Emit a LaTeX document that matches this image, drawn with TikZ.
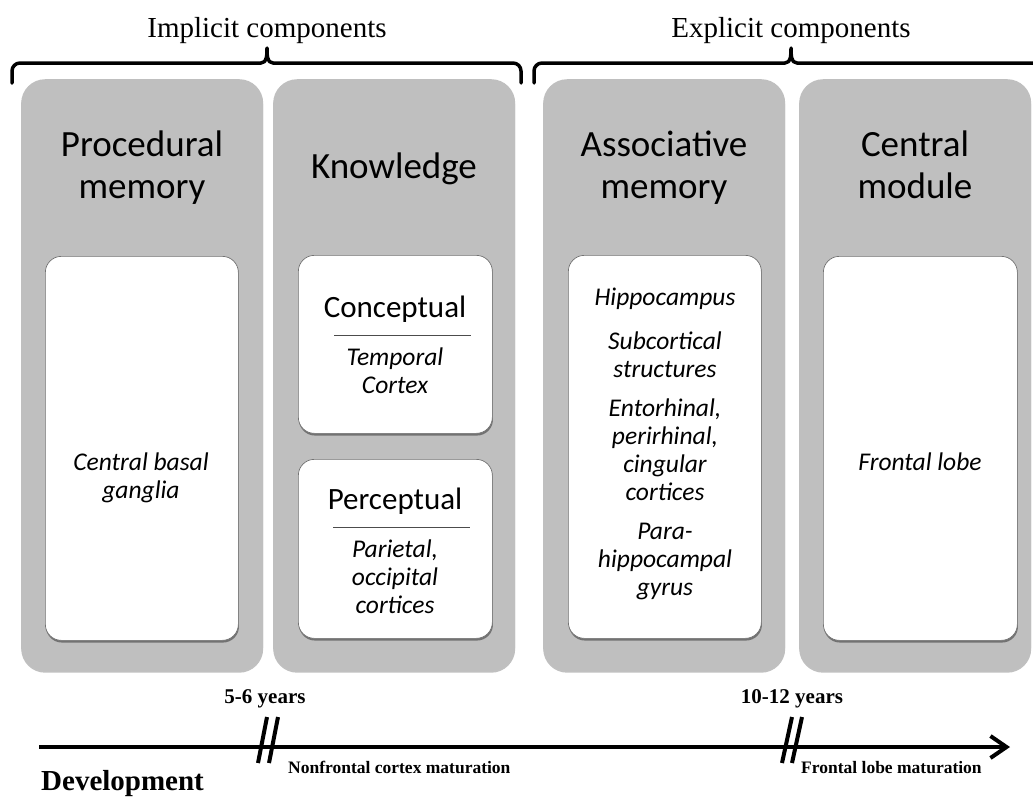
\documentclass[tikz,border=0pt]{standalone}
\usepackage{fontspec}
\setmainfont{Carlito}
\newfontfamily\timesf{Liberation Serif}
\usetikzlibrary{shadows,arrows.meta}
\definecolor{panelgray}{RGB}{191,191,191}
\begin{document}
\begin{tikzpicture}[x=1pt,y=-1pt,
  panel/.style={fill=panelgray, rounded corners=24pt, anchor=north west, inner sep=0pt,
    drop shadow={shadow xshift=0pt,shadow yshift=-2.5pt,opacity=0.35,fill=black!70}},
  innerbox/.style={fill=white, draw=black!55, line width=0.7pt, rounded corners=16pt, anchor=north west, inner sep=0pt,
    drop shadow={shadow xshift=0.6pt,shadow yshift=-2.2pt,opacity=0.55,fill=black!80}},
  hdr/.style={font=\fontsize{37}{42}\selectfont, align=center, inner sep=0pt, anchor=base},
  sub/.style={font=\fontsize{31}{36}\selectfont, inner sep=0pt, anchor=base},
  itx/.style={font=\fontsize{25.5}{28}\selectfont\itshape, align=center, inner sep=0pt, anchor=base},
  toplabel/.style={font=\timesf\fontsize{29}{32}\selectfont, inner sep=0pt, anchor=base},
  agelabel/.style={font=\timesf\bfseries\fontsize{21}{24}\selectfont, inner sep=0pt, anchor=base},
  matlabel/.style={font=\timesf\bfseries\fontsize{17.5}{20}\selectfont, inner sep=0pt, anchor=base west},
  brace/.style={line width=3.5pt, line cap=round, line join=round},
  breakmark/.style={line width=4pt},
  sepline/.style={draw=black!70, line width=1pt}
]
\useasboundingbox[fill=white] (0,0) rectangle (1033,796);

% panels
\node[panel, minimum width=242pt, minimum height=591pt] (p1) at (21,79) {};
\node[panel, minimum width=242pt, minimum height=591pt] (p2) at (273,79) {};
\node[panel, minimum width=242pt, minimum height=591pt] (p3) at (543,79) {};
\node[panel, minimum width=232pt, minimum height=591pt] (p4) at (799,79) {};

% headers (anchor base = baseline of last line)
\node[hdr] (h1) at (142,198) {Procedural\\memory};
\node[hdr] (h2) at (394,178) {Knowledge};
\node[hdr] (h3) at (664,198) {Associative\\memory};
\node[hdr] (h4) at (915,198) {Central\\module};

% inner boxes
\node[innerbox, minimum width=193pt, minimum height=384pt] (b1) at (45,256) {};
\node[innerbox, minimum width=194pt, minimum height=178pt] (b2a) at (298,255) {};
\node[innerbox, minimum width=194pt, minimum height=179pt] (b2b) at (298,459) {};
\node[innerbox, minimum width=193pt, minimum height=383pt] (b3) at (568,255) {};
\node[innerbox, minimum width=194pt, minimum height=384pt] (b4) at (823,256) {};

% procedural
\node[itx] (t1) at (141,498) {Central basal\\ganglia};

% knowledge
\node[sub] (c1) at (395,317) {Conceptual};
\coordinate (c1l) at (334,335);
\coordinate (c1r) at (471,335);
\draw[sepline] (c1l) -- (c1r);
\node[itx] (c2) at (395,393) {Temporal\\Cortex};

\node[sub] (d1) at (395,509) {Perceptual};
\coordinate (d1l) at (333,527);
\coordinate (d1r) at (470,527);
\draw[sepline] (d1l) -- (d1r);
\node[itx] (d2) at (395,613) {Parietal,\\occipital\\cortices};

% associative
\node[itx] (a1) at (665,305) {Hippocampus};
\node[itx] (a2) at (665,377) {Subcortical\\structures};
\node[itx] (a3) at (665,500) {Entorhinal,\\perirhinal,\\cingular\\cortices};
\node[itx] (a4) at (665,595) {Para-\\hippocampal\\gyrus};

% central
\node[itx] (f1) at (920,470) {Frontal lobe};

% top labels and braces
\node[toplabel] (impl) at (267,37) {Implicit components};
\node[toplabel] (expl) at (791,37) {Explicit components};
\draw[brace] (12,83) -- (12,71) to[out=90,in=180] (20,63) -- (261,63)
  to[out=0,in=-90] (267,48) to[out=-90,in=180] (273,63) -- (513,63)
  to[out=0,in=90] (521,71) -- (521,83);
\draw[brace] (534,83) -- (534,71) to[out=90,in=180] (542,63) -- (785,63)
  to[out=0,in=-90] (791,48) to[out=-90,in=180] (797,63) -- (1040,63);

% development axis
\coordinate (devstart) at (39,747);
\coordinate (devend) at (1010,747);
\draw[line width=4pt, -{Straight Barb[length=16pt,width=22pt,line width=4pt]}] (devstart) -- (devend);
\draw[breakmark] (267,717) -- (258,763);
\draw[breakmark] (278,717) -- (269,763);
\draw[breakmark] (792,717) -- (782,763);
\draw[breakmark] (802,717) -- (792,763);

\node[agelabel] (y1) at (265,703) {5-6 years};
\node[agelabel] (y2) at (792,703) {10-12 years};
\node[matlabel] (m1) at (288,773) {Nonfrontal cortex maturation};
\node[matlabel] (m2) at (801,773) {Frontal lobe maturation};
\node[font=\timesf\bfseries\fontsize{29}{32}\selectfont, inner sep=0pt, anchor=base west] (dev) at (41,790) {Development};
\end{tikzpicture}
\end{document}
